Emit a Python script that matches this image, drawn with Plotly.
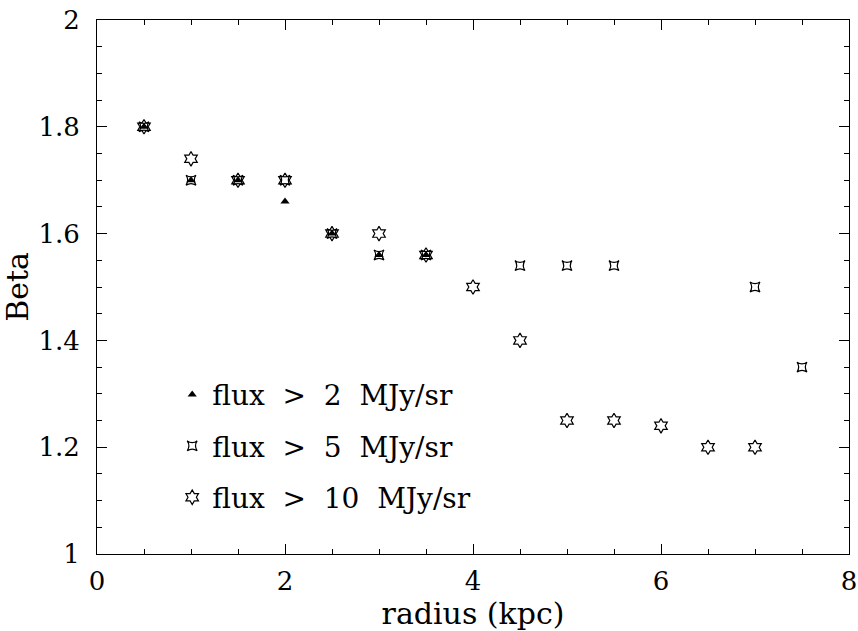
import plotly.graph_objects as go

# flux > 2 MJy/sr
r2 = [0.5, 1.0, 1.5, 2.0, 2.5, 3.0, 3.5]
b2 = [1.80, 1.70, 1.70, 1.66, 1.60, 1.56, 1.56]
# flux > 5 MJy/sr
r5 = [0.5, 1.0, 1.5, 2.0, 2.5, 3.0, 3.5, 4.5, 5.0, 5.5, 7.0, 7.5]
b5 = [1.80, 1.70, 1.70, 1.70, 1.60, 1.56, 1.56, 1.54, 1.54, 1.54, 1.50, 1.35]
# flux > 10 MJy/sr
r10 = [0.5, 1.0, 1.5, 2.0, 2.5, 3.0, 3.5, 4.0, 4.5, 5.0, 5.5, 6.0, 6.5, 7.0]
b10 = [1.80, 1.74, 1.70, 1.70, 1.60, 1.60, 1.56, 1.50, 1.40, 1.25, 1.25, 1.24, 1.20, 1.20]

labels = ["flux > 2 MJy/sr", "flux > 5 MJy/sr", "flux > 10 MJy/sr"]
xticks = [0, 2, 4, 6, 8]
yticks = [1, 1.2, 1.4, 1.6, 1.8, 2]

FONT = "DejaVu Serif"
SP = "\u00a0"


def wide(s):
    return s.replace(" ", SP + SP)


fig = go.Figure()
fig.add_trace(go.Scatter(x=r10, y=b10, mode="markers", name=wide(labels[2]), legendgroup="c", legendrank=3,
                         marker=dict(symbol="hexagram-open", size=11, color="black", line=dict(width=1.2, color="black"))))
fig.add_trace(go.Scatter(x=r5, y=b5, mode="markers", name=wide(labels[1]), legendgroup="b", legendrank=2,
                         marker=dict(symbol="star-square-open", size=9, color="black", line=dict(width=1.2, color="black"))))
fig.add_trace(go.Scatter(x=r2, y=b2, mode="markers", name=wide(labels[0]), legendgroup="a", legendrank=1,
                         marker=dict(symbol="triangle-up", size=8, color="black", line=dict(width=0))))

axis_common = dict(
    showline=True, linecolor="black", linewidth=1, mirror="ticks",
    ticks="inside", ticklen=10, tickwidth=1, tickcolor="black",
    showgrid=False, zeroline=False, ticklabeloverflow="allow", automargin=False,
    tickfont=dict(family=FONT, size=26, color="black"),
)

fig.update_xaxes(range=[-0.00001, 8.00001], tickvals=xticks, ticktext=[str(v) for v in xticks],
                 ticklabelstandoff=4,
                 minor=dict(dtick=0.5, ticklen=5, ticks="inside", tickcolor="black", showgrid=False),
                 title=dict(text="radius (kpc)", font=dict(family=FONT, size=30, color="black"), standoff=0),
                 **axis_common)
fig.update_yaxes(range=[0.99999, 2.00001], tickvals=yticks, ticktext=["1", "1.2", "1.4", "1.6", "1.8", "2"],
                 ticklabelstandoff=11,
                 minor=dict(dtick=0.05, ticklen=5, ticks="inside", tickcolor="black", showgrid=False),
                 title=dict(text="Beta", font=dict(family=FONT, size=30, color="black"), standoff=6),
                 **axis_common)

fig.update_layout(
    width=858, height=631,
    margin=dict(l=97, r=9, t=20, b=77, autoexpand=False),
    paper_bgcolor="white", plot_bgcolor="white",
    showlegend=True,
    legend=dict(x=0.1, y=0.345, xanchor="left", yanchor="top",
                bgcolor="rgba(0,0,0,0)", traceorder="grouped", tracegroupgap=12,
                font=dict(family=FONT, size=28, color="black"), itemwidth=30),
)

fig.write_html("out.html", config={"displayModeBar": False},
               post_script="document.body.style.margin='0';document.body.style.overflow='hidden';")
